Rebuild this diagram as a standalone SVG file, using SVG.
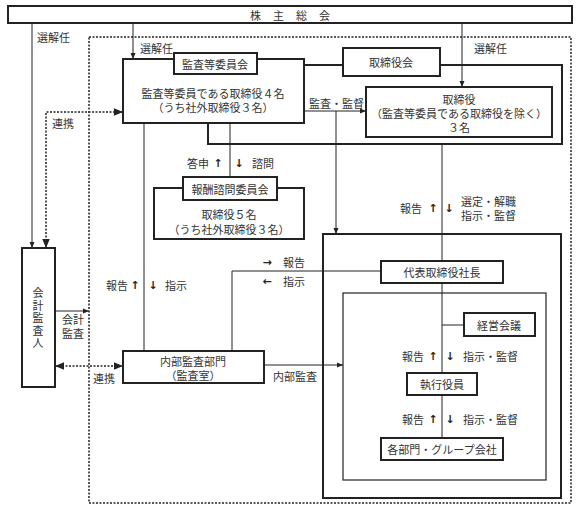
<svg xmlns="http://www.w3.org/2000/svg" width="580" height="511" viewBox="0 0 580 511">
<defs>
<style>
text{font-family:"Noto Sans CJK JP","Noto Sans",sans-serif;font-size:11px;fill:#333;dominant-baseline:central}
.c{text-anchor:middle}
.b{fill:#fff;stroke:#222;stroke-width:2}
.bt{fill:none;stroke:#222;stroke-width:1.2}
.ln{fill:none;stroke:#222;stroke-width:1}
.fr{fill:none;stroke:#222;stroke-width:2}
.dt{fill:none;stroke:#222;stroke-width:1.5;stroke-dasharray:2 1.5}
.ar{font-family:"DejaVu Sans",sans-serif;font-weight:bold;fill:#222}
</style>
<marker id="a" viewBox="0 0 6 6" refX="6" refY="3" markerWidth="6" markerHeight="6" orient="auto-start-reverse"><path d="M0,0.5L6,3L0,5.5z" fill="#222"/></marker>
</defs>
<rect width="580" height="511" fill="#fff"/>

<g id="frames">
<rect x="89" y="37" width="482" height="466" class="dt"/>
<path d="M304,65H343M440,65H562V144H208V123" class="fr"/>
<rect x="323" y="234" width="238" height="264" class="fr"/>
<rect x="343" y="293" width="203" height="187" class="bt"/>
</g>

<g id="connectors">
<path d="M133,23V59" class="ln" marker-end="url(#a)"/>
<path d="M462,23V87" class="ln" marker-end="url(#a)"/>
<path d="M32,23V248" class="ln" marker-end="url(#a)"/>
<path d="M46,248V112H123" class="dt" marker-start="url(#a)" marker-end="url(#a)"/>
<path d="M304,111H366" class="ln" marker-end="url(#a)"/>
<path d="M336,111V234" class="ln" marker-end="url(#a)"/>
<path d="M442,144V438" class="ln"/>
<path d="M442,325H464" class="ln"/>
<path d="M230,123V177" class="ln"/>
<path d="M144,123V351" class="ln"/>
<path d="M232,351V271H381" class="ln"/>
<path d="M55,311H89" class="ln" marker-end="url(#a)"/>
<path d="M55,366H123" class="dt" marker-start="url(#a)" marker-end="url(#a)"/>
<path d="M264,365H343" class="ln" marker-end="url(#a)"/>
</g>

<g id="shareholders">
<rect x="8" y="6" width="564" height="17" class="b"/>
<text x="290" y="15" class="c" letter-spacing="12" dx="6">株主総会</text>
</g>

<g id="audit-committee">
<rect x="123" y="59" width="181" height="64" class="b"/>
<rect x="174" y="53" width="83" height="21" class="b"/>
<text x="215" y="64" class="c">監査等委員会</text>
<text class="c"><tspan x="213" y="93">監査等委員である取締役４名</tspan><tspan x="213" y="107">（うち社外取締役３名）</tspan></text>
</g>

<g id="board">
<rect x="343" y="48" width="97" height="28" class="b"/>
<text x="391" y="62" class="c">取締役会</text>
</g>

<g id="directors">
<rect x="366" y="87" width="186" height="50" class="b"/>
<text class="c"><tspan x="459" y="99">取締役</tspan><tspan x="459" y="113">（監査等委員である取締役を除く）</tspan><tspan x="459" y="127">３名</tspan></text>
</g>

<g id="compensation">
<rect x="154" y="188" width="150" height="51" class="b" stroke-width="1.5"/>
<rect x="183" y="177" width="94" height="23" class="b"/>
<text x="230" y="189" class="c">報酬諮問委員会</text>
<text class="c"><tspan x="229" y="214">取締役５名</tspan><tspan x="229" y="229">（うち社外取締役３名）</tspan></text>
</g>

<g id="auditor">
<rect x="22" y="248" width="33" height="139" class="b"/>
<text x="38" y="319" class="c" writing-mode="vertical-rl" letter-spacing="1.5">会計監査人</text>
</g>

<g id="internal-audit">
<rect x="123" y="351" width="141" height="32" class="b"/>
<text class="c"><tspan x="193" y="361">内部監査部門</tspan><tspan x="193" y="375">（監査室）</tspan></text>
</g>

<g id="president">
<rect x="381" y="261" width="122" height="22" class="b"/>
<text x="442" y="272" class="c">代表取締役社長</text>
</g>

<g id="management-meeting">
<rect x="464" y="313" width="71" height="23" class="b"/>
<text x="499" y="325" class="c">経営会議</text>
</g>

<g id="officers">
<rect x="407" y="373" width="70" height="22" class="b"/>
<text x="442" y="384" class="c">執行役員</text>
</g>

<g id="divisions">
<rect x="381" y="438" width="122" height="22" class="b"/>
<text x="442" y="449" class="c">各部門・グループ会社</text>
</g>

<g id="labels">
<text x="37" y="37">選解任</text>
<text x="140" y="48">選解任</text>
<text x="474" y="48">選解任</text>
<text x="309" y="103">監査・監督</text>
<text x="52" y="123">連携</text>
<text x="187" y="163">答申</text><text x="218" y="163" class="ar c">↑</text><text x="239" y="163" class="ar c">↓</text><text x="252" y="163">諮問</text>
<text x="400" y="208">報告</text><text x="433" y="208" class="ar c">↑</text><text x="449" y="208" class="ar c">↓</text>
<text><tspan x="461" y="201">選定・解職</tspan><tspan x="461" y="215">指示・監督</tspan></text>
<text x="267" y="262" class="ar c">→</text><text x="283" y="262">報告</text>
<text x="267" y="281" class="ar c">←</text><text x="283" y="281">指示</text>
<text x="106" y="285">報告</text><text x="135" y="285" class="ar c">↑</text><text x="153" y="285" class="ar c">↓</text><text x="165" y="285">指示</text>
<text><tspan x="62" y="319">会計</tspan><tspan x="62" y="333">監査</tspan></text>
<text x="93" y="378">連携</text>
<text x="273" y="376">内部監査</text>
<text x="402" y="356">報告</text><text x="433" y="356" class="ar c">↑</text><text x="450" y="356" class="ar c">↓</text><text x="463" y="356">指示・監督</text>
<text x="402" y="419">報告</text><text x="433" y="419" class="ar c">↑</text><text x="450" y="419" class="ar c">↓</text><text x="463" y="419">指示・監督</text>
</g>
</svg>
